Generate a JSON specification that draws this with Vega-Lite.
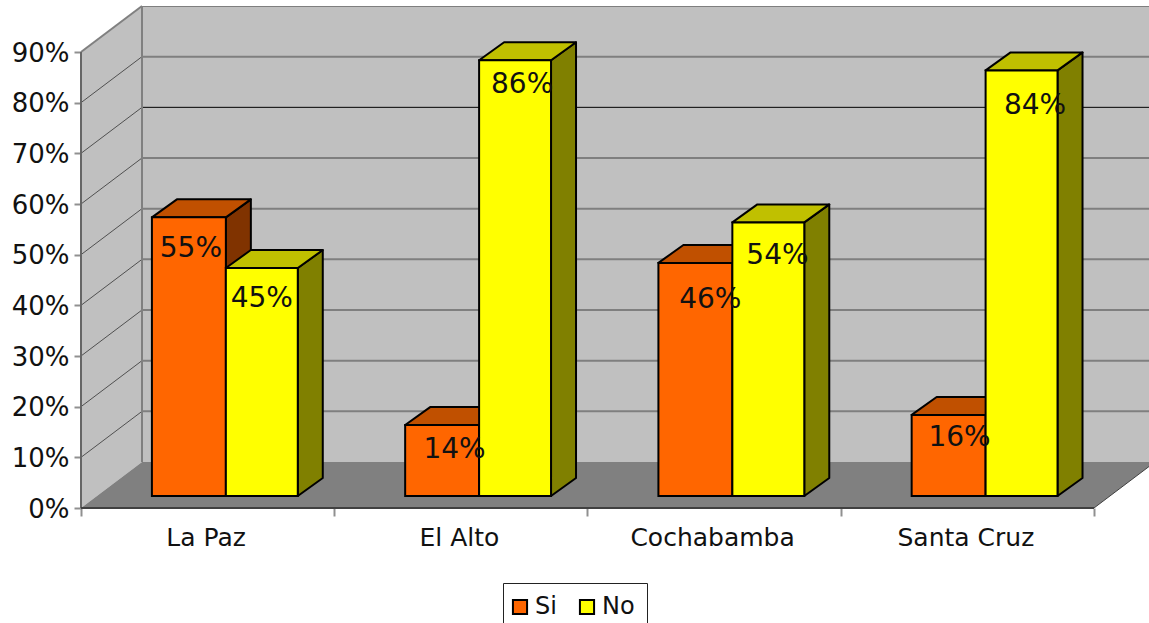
{
  "$schema": "https://vega.github.io/schema/vega-lite/v6.json",
  "width": 1068,
  "height": 502,
  "autosize": {"type": "none"},
  "padding": {"left": 81, "top": 6, "right": 0, "bottom": 115},
  "background": "white",
  "config": {
    "font": "DejaVu Sans",
    "view": {"stroke": null},
    "axis": {"labelFont": "DejaVu Sans", "labelColor": "#111111", "title": null},
    "legend": {"labelFont": "DejaVu Sans"}
  },
  "datasets": {
    "respuestas": [
      {"ciudad": "La Paz", "respuesta": "Si", "valor": 55},
      {"ciudad": "La Paz", "respuesta": "No", "valor": 45},
      {"ciudad": "El Alto", "respuesta": "Si", "valor": 14},
      {"ciudad": "El Alto", "respuesta": "No", "valor": 86},
      {"ciudad": "Cochabamba", "respuesta": "Si", "valor": 46},
      {"ciudad": "Cochabamba", "respuesta": "No", "valor": 54},
      {"ciudad": "Santa Cruz", "respuesta": "Si", "valor": 16},
      {"ciudad": "Santa Cruz", "respuesta": "No", "valor": 84}
    ],
    "niveles": [
      {"nivel": 0}, {"nivel": 10}, {"nivel": 20}, {"nivel": 30}, {"nivel": 40},
      {"nivel": 50}, {"nivel": 60}, {"nivel": 70}, {"nivel": 80}, {"nivel": 90}
    ],
    "profundidad": [{"d": 0}, {"d": 1}],
    "unico": [{"uno": 1}]
  },
  "resolve": {"axis": {"x": "independent", "y": "independent"}},
  "layer": [
    {
      "data": {"name": "unico"},
      "mark": {"type": "rect", "fill": "#c0c0c0", "clip": true},
      "encoding": {
        "x": {
          "datum": 0.2409,
          "type": "quantitative",
          "scale": {"domain": [0, 4.2172], "nice": false, "zero": false},
          "axis": {
            "orient": "bottom",
            "values": [0, 1, 2, 3, 4],
            "labels": false,
            "domain": false,
            "grid": false,
            "ticks": true,
            "tickSize": 8,
            "tickWidth": 2,
            "tickColor": "#909090",
            "title": null
          }
        },
        "x2": {"datum": 4.4},
        "y": {
          "datum": 9.08,
          "type": "quantitative",
          "scale": {"domain": [0, 99.08], "nice": false, "zero": false},
          "axis": {
            "values": [0, 10, 20, 30, 40, 50, 60, 70, 80, 90],
            "labelExpr": "datum.value + '%'",
            "labelFontSize": 26,
            "labelPadding": 5,
            "labelBaseline": "middle",
            "labelOffset": 1,
            "domain": false,
            "grid": false,
            "tickSize": 7,
            "tickWidth": 2,
            "tickColor": "#909090",
            "title": null
          }
        },
        "y2": {"datum": 99.08}
      }
    },
    {
      "data": {"name": "profundidad"},
      "transform": [
        {"calculate": "datum.d * 0.2409", "as": "xp"},
        {"calculate": "datum.d * 9.08", "as": "yp"},
        {"calculate": "90 + datum.d * 9.08", "as": "yq"}
      ],
      "mark": {"type": "area", "fill": "#c0c0c0", "orient": "vertical"},
      "encoding": {
        "x": {
          "field": "xp",
          "type": "quantitative",
          "axis": {
            "orient": "bottom",
            "values": [0.5, 1.5, 2.5, 3.5],
            "labelExpr": "['La Paz', 'El Alto', 'Cochabamba', 'Santa Cruz'][floor(datum.value)]",
            "labelFontSize": 25,
            "labelPadding": 17,
            "labelOffset": -2,
            "labelFlush": false,
            "labelOverlap": false,
            "ticks": false,
            "domain": false,
            "grid": false,
            "title": null
          }
        },
        "y": {"field": "yp", "type": "quantitative", "axis": null, "stack": null},
        "y2": {"field": "yq"}
      }
    },
    {
      "data": {"name": "profundidad"},
      "transform": [
        {"calculate": "datum.d * 0.2409", "as": "xp"},
        {"calculate": "4 + datum.d * 0.2409", "as": "xq"},
        {"calculate": "datum.d * 9.08", "as": "yp"}
      ],
      "mark": {"type": "area", "fill": "#808080", "orient": "horizontal", "clip": true},
      "encoding": {
        "y": {"field": "yp", "type": "quantitative", "axis": null},
        "x": {"field": "xp", "type": "quantitative", "axis": null, "stack": null},
        "x2": {"field": "xq"}
      }
    },
    {
      "data": {"name": "niveles"},
      "transform": [
        {"filter": "datum.nivel > 0"},
        {"calculate": "datum.nivel + 9.08", "as": "fondo"}
      ],
      "mark": {"type": "rule", "clip": true},
      "encoding": {
        "x": {"datum": 0.2409, "type": "quantitative", "axis": null},
        "x2": {"datum": 4.4},
        "y": {"field": "fondo", "type": "quantitative", "axis": null},
        "stroke": {"condition": {"test": "datum.nivel === 70", "value": "#000000"}, "value": "#7f7f7f"},
        "strokeWidth": {"condition": {"test": "datum.nivel === 70", "value": 1}, "value": 2}
      }
    },
    {
      "data": {"name": "niveles"},
      "transform": [
        {"filter": "datum.nivel > 0"},
        {"calculate": "datum.nivel + 9.08", "as": "fondo"}
      ],
      "mark": {"type": "rule"},
      "encoding": {
        "x": {"datum": 0, "type": "quantitative", "axis": null},
        "x2": {"datum": 0.2409},
        "y": {"field": "nivel", "type": "quantitative", "axis": null},
        "y2": {"field": "fondo"},
        "stroke": {"condition": {"test": "datum.nivel === 90", "value": "#808080"}, "value": "#505050"},
        "strokeWidth": {"condition": {"test": "datum.nivel === 90", "value": 2}, "value": 1}
      }
    },
    {
      "data": {"name": "unico"},
      "mark": {"type": "rule", "stroke": "#808080", "strokeWidth": 2},
      "encoding": {
        "x": {"datum": 0.2409, "type": "quantitative", "axis": null},
        "y": {"datum": 9.08, "type": "quantitative", "axis": null},
        "y2": {"datum": 99.08}
      }
    },
    {
      "data": {"name": "unico"},
      "mark": {"type": "rule", "stroke": "#404040", "strokeWidth": 1, "clip": true},
      "encoding": {
        "x": {"datum": 4, "type": "quantitative", "axis": null},
        "x2": {"datum": 4.2409},
        "y": {"datum": 0, "type": "quantitative", "axis": null},
        "y2": {"datum": 9.08}
      }
    },
    {
      "data": {"name": "unico"},
      "mark": {"type": "rule", "stroke": "#666666", "strokeWidth": 2},
      "encoding": {
        "x": {"datum": 0, "type": "quantitative", "axis": null},
        "y": {"datum": 0, "type": "quantitative", "axis": null},
        "y2": {"datum": 90}
      }
    },
    {
      "data": {"name": "unico"},
      "mark": {"type": "rule", "stroke": "#404040", "strokeWidth": 2},
      "encoding": {
        "x": {"datum": 0, "type": "quantitative", "axis": null},
        "x2": {"datum": 4},
        "y": {"datum": 0, "type": "quantitative", "axis": null}
      }
    },
    {
      "data": {"name": "respuestas"},
      "transform": [
        {"calculate": "indexof(['La Paz', 'El Alto', 'Cochabamba', 'Santa Cruz'], datum.ciudad)", "as": "i"},
        {"calculate": "datum.i + (datum.respuesta === 'Si' ? 0.28 : 0.572)", "as": "x0"},
        {"calculate": "datum.i + (datum.respuesta === 'Si' ? 0.572 : 0.856)", "as": "x1"},
        {"calculate": "2.37 + datum.valor", "as": "cima"},
        {"calculate": "[0, 1]", "as": "d"},
        {"flatten": ["d"]},
        {"calculate": "datum.x0 + datum.d * 0.0987", "as": "ax"},
        {"calculate": "datum.x1 + datum.d * 0.0987", "as": "bx"},
        {"calculate": "2.37 + datum.d * 3.55", "as": "py"},
        {"calculate": "datum.cima + datum.d * 3.55", "as": "qy"},
        {"calculate": "datum.ciudad + ' ' + datum.respuesta", "as": "barra"}
      ],
      "layer": [
        {
          "transform": [{"filter": "datum.respuesta === 'Si'"}],
          "mark": {"type": "area", "orient": "vertical", "fill": "#803300", "stroke": "black", "strokeWidth": 2, "strokeJoin": "round"},
          "encoding": {
            "x": {"field": "bx", "type": "quantitative", "axis": null},
            "y": {"field": "py", "type": "quantitative", "axis": null, "stack": null},
            "y2": {"field": "qy"},
            "detail": {"field": "barra"}
          }
        },
        {
          "transform": [{"filter": "datum.respuesta === 'Si'"}],
          "mark": {"type": "area", "orient": "horizontal", "fill": "#c05000", "stroke": "black", "strokeWidth": 2, "strokeJoin": "round"},
          "encoding": {
            "y": {"field": "qy", "type": "quantitative", "axis": null},
            "x": {"field": "ax", "type": "quantitative", "axis": null, "stack": null},
            "x2": {"field": "bx"},
            "detail": {"field": "barra"}
          }
        },
        {
          "transform": [{"filter": "datum.respuesta === 'Si' && datum.d === 0"}],
          "mark": {"type": "rect", "stroke": "black", "strokeWidth": 2},
          "encoding": {
            "x": {"field": "x0", "type": "quantitative", "axis": null},
            "x2": {"field": "x1"},
            "y": {"field": "py", "type": "quantitative", "axis": null},
            "y2": {"field": "qy"},
            "fill": {
              "field": "respuesta",
              "type": "nominal",
              "scale": {"domain": ["Si", "No"], "range": ["#ff6600", "#ffff00"]},
              "legend": {
                "orient": "none",
                "legendX": 422,
                "legendY": 577,
                "direction": "horizontal",
                "title": null,
                "strokeColor": "#222222",
                "fillColor": "white",
                "padding": 12,
                "labelFontSize": 24,
                "labelColor": "#111111",
                "labelExpr": "datum.label === 'No' ? 'No\u00a0\u00a0\u00a0' : datum.label",
                "symbolSize": 200,
                "symbolStrokeColor": "black",
                "symbolStrokeWidth": 2,
                "symbolType": "square",
                "symbolOffset": -7,
                "columnPadding": 18,
                "labelOffset": 3
              }
            }
          }
        },
        {
          "transform": [{"filter": "datum.respuesta === 'No'"}],
          "mark": {"type": "area", "orient": "vertical", "fill": "#808000", "stroke": "black", "strokeWidth": 2, "strokeJoin": "round"},
          "encoding": {
            "x": {"field": "bx", "type": "quantitative", "axis": null},
            "y": {"field": "py", "type": "quantitative", "axis": null, "stack": null},
            "y2": {"field": "qy"},
            "detail": {"field": "barra"}
          }
        },
        {
          "transform": [{"filter": "datum.respuesta === 'No'"}],
          "mark": {"type": "area", "orient": "horizontal", "fill": "#c0c000", "stroke": "black", "strokeWidth": 2, "strokeJoin": "round"},
          "encoding": {
            "y": {"field": "qy", "type": "quantitative", "axis": null},
            "x": {"field": "ax", "type": "quantitative", "axis": null, "stack": null},
            "x2": {"field": "bx"},
            "detail": {"field": "barra"}
          }
        },
        {
          "transform": [{"filter": "datum.respuesta === 'No' && datum.d === 0"}],
          "mark": {"type": "rect", "stroke": "black", "strokeWidth": 2},
          "encoding": {
            "x": {"field": "x0", "type": "quantitative", "axis": null},
            "x2": {"field": "x1"},
            "y": {"field": "py", "type": "quantitative", "axis": null},
            "y2": {"field": "qy"},
            "fill": {"field": "respuesta", "type": "nominal"}
          }
        },
        {
          "transform": [
            {"filter": "datum.d === 0"},
            {"calculate": "{'La Paz Si': 0.008, 'La Paz No': 0, 'El Alto Si': 0.049, 'El Alto No': 0.028, 'Cochabamba Si': 0.059, 'Cochabamba No': 0.036, 'Santa Cruz Si': 0.043, 'Santa Cruz No': 0.053}[datum.barra]", "as": "ox"},
            {"calculate": "{'La Paz Si': 6.06, 'La Paz No': 5.92, 'El Alto Si': 4.74, 'El Alto No': 4.7, 'Cochabamba Si': 7.1, 'Cochabamba No': 6.43, 'Santa Cruz Si': 4.34, 'Santa Cruz No': 6.83}[datum.barra]", "as": "oy"},
            {"calculate": "(datum.x0 + datum.x1) / 2 + datum.ox", "as": "tx"},
            {"calculate": "datum.cima - datum.oy", "as": "ty"},
            {"calculate": "datum.valor + '%'", "as": "etiqueta"}
          ],
          "mark": {"type": "text", "font": "DejaVu Sans", "fontSize": 28, "align": "center", "baseline": "middle", "dy": 1, "fill": "#111111"},
          "encoding": {
            "x": {"field": "tx", "type": "quantitative", "axis": null},
            "y": {"field": "ty", "type": "quantitative", "axis": null},
            "text": {"field": "etiqueta"}
          }
        }
      ]
    }
  ]
}
